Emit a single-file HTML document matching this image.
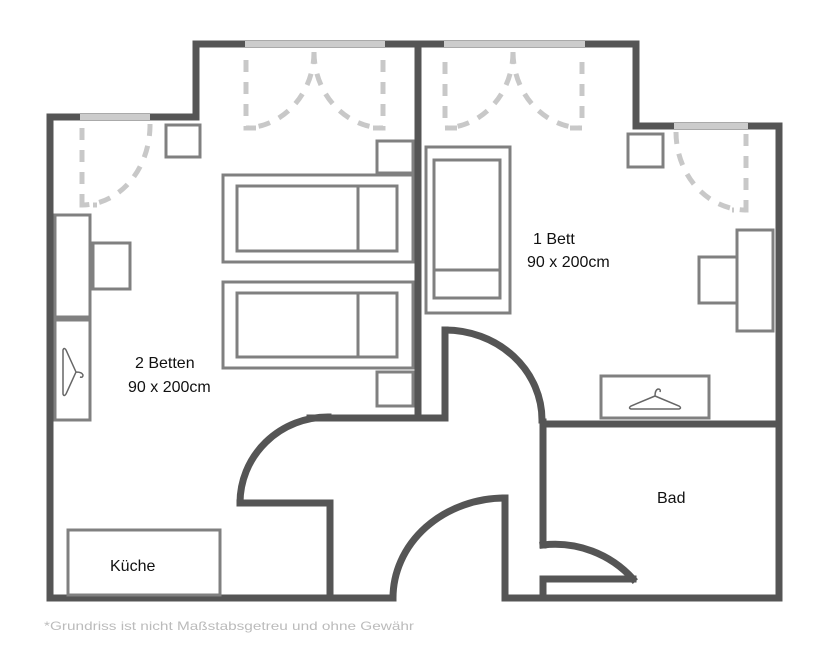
<!DOCTYPE html>
<html><head><meta charset="utf-8"><style>
html,body{margin:0;padding:0;background:#fff}
svg{display:block}
text{font-family:"Liberation Sans",sans-serif;fill:#111}
</style></head><body>
<svg width="834" height="672" viewBox="0 0 834 672" xmlns="http://www.w3.org/2000/svg">
<rect width="834" height="672" fill="#fff"/>
<g fill="none" stroke="#555" stroke-width="7" stroke-linecap="square">
  <polyline points="50,598 50,117 196,117 196,44 636,44 636,126 779,126 779,598"/>
  <line x1="418" y1="44" x2="418" y2="418"/>
  <line x1="50" y1="598" x2="392" y2="598"/>
  <line x1="505" y1="598" x2="779" y2="598"/>
  <polyline points="330,598 330,503 240,503"/>
  <path d="M240,503 A88,86 0 0 1 328,417"/>
  <line x1="310" y1="418" x2="445" y2="418"/>
  <polyline points="445,418 445,330"/>
  <path d="M445,330 A97,90 0 0 1 542,420"/>
  <polyline points="543,422 543,545"/>
  <line x1="543" y1="424" x2="779" y2="424"/>
  <path d="M543,545 A105,105 0 0 1 633,579"/>
  <polyline points="633,579 543,579 543,598"/>
  <polyline points="505,598 505,498"/>
  <path d="M505,498 A112,100 0 0 0 393,598"/>
</g>
<g stroke="#ccc" stroke-width="6">
  <line x1="80" y1="117" x2="150" y2="117"/>
  <line x1="245" y1="44" x2="385" y2="44"/>
  <line x1="444" y1="44" x2="585" y2="44"/>
  <line x1="674" y1="126" x2="748" y2="126"/>
</g>
<g fill="none" stroke="#c8c8c8" stroke-width="5" stroke-dasharray="12,10">
  <polyline points="82,128 82,205 97,205"/>
  <path d="M150,124 A68,80 0 0 1 82,205"/>
  <polyline points="246,60 246,128 260,128"/>
  <path d="M314,52 A70,76 0 0 1 246,128"/>
  <polyline points="383,60 383,128 370,128"/>
  <path d="M314,52 A70,76 0 0 0 383,128"/>
  <polyline points="445,62 445,128 460,128"/>
  <path d="M513,52 A70,76 0 0 1 445,128"/>
  <polyline points="582,62 582,128 568,128"/>
  <path d="M513,52 A70,76 0 0 0 582,128"/>
  <polyline points="746,134 746,210 732,210"/>
  <path d="M676,132 A70,78 0 0 0 746,210"/>
</g>
<g fill="none" stroke="#808080" stroke-width="3">
  <rect x="166" y="125" width="34" height="32"/>
  <rect x="55" y="215" width="35" height="102"/>
  <rect x="93" y="243" width="37" height="46"/>
  <rect x="55" y="320" width="35" height="100"/>
  <rect x="223" y="175" width="190" height="87"/>
  <rect x="237" y="186" width="160" height="65"/>
  <line x1="358" y1="186" x2="358" y2="251"/>
  <rect x="223" y="282" width="190" height="86"/>
  <rect x="237" y="293" width="160" height="64"/>
  <line x1="358" y1="293" x2="358" y2="357"/>
  <rect x="377" y="141" width="36" height="32"/>
  <rect x="377" y="372" width="36" height="34"/>
  <rect x="426" y="147" width="84" height="166"/>
  <rect x="434" y="160" width="66" height="138"/>
  <line x1="434" y1="270" x2="500" y2="270"/>
  <rect x="628" y="134" width="35" height="33"/>
  <rect x="737" y="230" width="36" height="101"/>
  <rect x="699" y="257" width="38" height="46"/>
  <rect x="601" y="376" width="108" height="42"/>
  <rect x="68" y="530" width="152" height="65"/>
</g>
<g fill="none" stroke="#666" stroke-width="1.5">
  <g transform="translate(655,400)">
    <path d="M0,-4 q0,-6 3,-7 q3,0 2,3 M0,-4 l-24,10 q-3,2 0,3 l48,0 q3,-1 0,-3 l-24,-10"/>
  </g>
  <g transform="translate(72,372) rotate(90)">
    <path d="M0,-4 q0,-6 3,-7 q3,0 2,3 M0,-4 l-22,10 q-3,2 0,3 l44,0 q3,-1 0,-3 l-22,-10"/>
  </g>
</g>
<g font-size="16">
  <text x="135" y="368">2 Betten</text>
  <text x="128" y="392">90 x 200cm</text>
  <text x="533" y="244">1 Bett</text>
  <text x="527" y="267">90 x 200cm</text>
  <text x="657" y="503">Bad</text>
  <text x="110" y="571">Küche</text>
</g>
<text x="44" y="630" font-size="12" style="fill:#bbb" textLength="370" lengthAdjust="spacingAndGlyphs">*Grundriss ist nicht Maßstabsgetreu und ohne Gewähr</text>
</svg>
</body></html>
